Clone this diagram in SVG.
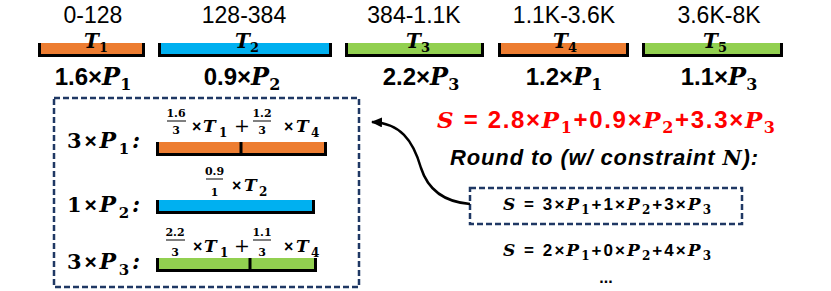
<svg xmlns="http://www.w3.org/2000/svg" width="831" height="291" viewBox="0 0 831 291">
<style>
.rng{font-family:"Liberation Sans",Arial,sans-serif;font-size:23px;fill:#000}
.n{font-family:"Liberation Sans",Arial,sans-serif;font-weight:bold}
.v{font-family:"DejaVu Serif","Liberation Serif",serif;font-weight:bold;font-style:italic}
.s{font-family:"DejaVu Serif","Liberation Serif",serif;font-weight:bold}
.br{fill:none;stroke:#000;stroke-width:3}
.dash{fill:none;stroke:#1F3864;stroke-width:2.5;stroke-dasharray:6 3}
.or{fill:#ED7D31}.bl{fill:#00B0F0}.gr{fill:#92D050}
.fl{stroke:#000;stroke-width:1}
</style>
<defs>
<marker id="ah" markerWidth="11" markerHeight="10" refX="10" refY="5" orient="auto" markerUnits="userSpaceOnUse">
<path d="M0,0 L11,5 L0,10 z" fill="#000"/>
</marker>
</defs>

<g id="t1">
<text class="rng" x="93" y="23" text-anchor="middle">0-128</text>
<rect class="or" x="39" y="43" width="105" height="12"/>
<path class="br" d="M39.5,43 V55.5 H143.5 V43"/>
<text x="96" y="48" text-anchor="middle"><tspan class="v" font-size="20">T</tspan><tspan class="s" font-size="13" dy="4">1</tspan></text>
<text x="93" y="85" text-anchor="middle"><tspan class="n" font-size="24">1.6×</tspan><tspan class="v" font-size="24">P</tspan><tspan class="s" font-size="16" dy="5">1</tspan></text>
</g>

<g id="t2">
<text class="rng" x="244" y="23" text-anchor="middle">128-384</text>
<rect class="bl" x="159" y="43" width="172" height="12"/>
<path class="br" d="M159.5,43 V55.5 H330.5 V43"/>
<text x="247" y="48" text-anchor="middle"><tspan class="v" font-size="20">T</tspan><tspan class="s" font-size="13" dy="4">2</tspan></text>
<text x="242" y="85" text-anchor="middle"><tspan class="n" font-size="24">0.9×</tspan><tspan class="v" font-size="24">P</tspan><tspan class="s" font-size="16" dy="5">2</tspan></text>
</g>

<g id="t3">
<text class="rng" x="414" y="23" text-anchor="middle">384-1.1K</text>
<rect class="gr" x="346" y="43" width="137" height="12"/>
<path class="br" d="M346.5,43 V55.5 H482.5 V43"/>
<text x="418" y="48" text-anchor="middle"><tspan class="v" font-size="20">T</tspan><tspan class="s" font-size="13" dy="4">3</tspan></text>
<text x="421" y="85" text-anchor="middle"><tspan class="n" font-size="24">2.2×</tspan><tspan class="v" font-size="24">P</tspan><tspan class="s" font-size="16" dy="5">3</tspan></text>
</g>

<g id="t4">
<text class="rng" x="564" y="23" text-anchor="middle">1.1K-3.6K</text>
<rect class="or" x="499" y="43" width="129" height="12"/>
<path class="br" d="M499.5,43 V55.5 H627.5 V43"/>
<text x="565" y="48" text-anchor="middle"><tspan class="v" font-size="20">T</tspan><tspan class="s" font-size="13" dy="4">4</tspan></text>
<text x="564" y="85" text-anchor="middle"><tspan class="n" font-size="24">1.2×</tspan><tspan class="v" font-size="24">P</tspan><tspan class="s" font-size="16" dy="5">1</tspan></text>
</g>

<g id="t5">
<text class="rng" x="719" y="23" text-anchor="middle">3.6K-8K</text>
<rect class="gr" x="643" y="43" width="139" height="12"/>
<path class="br" d="M643.5,43 V55.5 H781.5 V43"/>
<text x="715" y="48" text-anchor="middle"><tspan class="v" font-size="20">T</tspan><tspan class="s" font-size="13" dy="4">5</tspan></text>
<text x="719" y="85" text-anchor="middle"><tspan class="n" font-size="24">1.1×</tspan><tspan class="v" font-size="24">P</tspan><tspan class="s" font-size="16" dy="5">3</tspan></text>
</g>

<g id="breakdown">
<rect x="54" y="98" width="305" height="189" fill="#FFF2CC" class="dash"/>
<!-- row 1 -->
<text x="67" y="148" textLength="73" lengthAdjust="spacing"><tspan class="s" font-size="21">3</tspan><tspan class="n" font-size="21">×</tspan><tspan class="v" font-size="22">P</tspan><tspan class="s" font-size="15" dy="6">1</tspan><tspan class="v" font-size="22" dy="-6">:</tspan></text>
<rect class="or" x="157" y="142" width="168" height="12"/>
<path class="br" d="M157.5,142 V154.5 H325.5 V142 M241,142 V154"/>
<text class="s" font-size="11" x="176" y="117" text-anchor="middle">1.6</text>
<line class="fl" x1="167" y1="121" x2="186" y2="121"/>
<text class="s" font-size="11" x="176" y="134" text-anchor="middle">3</text>
<text y="132"><tspan class="n" font-size="16" x="192">×</tspan><tspan class="v" font-size="17" x="203">T</tspan><tspan class="s" font-size="12" x="219" y="137">1</tspan><tspan font-family="DejaVu Serif,serif" font-size="19" x="234" y="132">+</tspan></text>
<text class="s" font-size="11" x="262" y="117" text-anchor="middle">1.2</text>
<line class="fl" x1="253" y1="121" x2="271" y2="121"/>
<text class="s" font-size="11" x="262" y="134" text-anchor="middle">3</text>
<text y="132"><tspan class="n" font-size="16" x="284">×</tspan><tspan class="v" font-size="17" x="296">T</tspan><tspan class="s" font-size="12" x="311" y="137">4</tspan></text>
<!-- row 2 -->
<text x="67" y="212" textLength="73" lengthAdjust="spacing"><tspan class="s" font-size="21">1</tspan><tspan class="n" font-size="21">×</tspan><tspan class="v" font-size="22">P</tspan><tspan class="s" font-size="15" dy="6">2</tspan><tspan class="v" font-size="22" dy="-6">:</tspan></text>
<rect class="bl" x="157" y="200" width="156" height="12"/>
<path class="br" d="M157.5,200 V212.5 H313.5 V200"/>
<text class="s" font-size="11" x="214.5" y="175" text-anchor="middle">0.9</text>
<line class="fl" x1="206" y1="179" x2="223" y2="179"/>
<text class="s" font-size="11" x="214.5" y="196" text-anchor="middle">1</text>
<text y="191"><tspan class="n" font-size="16" x="232">×</tspan><tspan class="v" font-size="17" x="244">T</tspan><tspan class="s" font-size="12" x="259" y="196">2</tspan></text>
<!-- row 3 -->
<text x="67" y="269" textLength="73" lengthAdjust="spacing"><tspan class="s" font-size="21">3</tspan><tspan class="n" font-size="21">×</tspan><tspan class="v" font-size="22">P</tspan><tspan class="s" font-size="15" dy="6">3</tspan><tspan class="v" font-size="22" dy="-6">:</tspan></text>
<rect class="gr" x="157" y="258" width="158" height="12"/>
<path class="br" d="M157.5,258 V270.5 H315.5 V258 M250,258 V270"/>
<text class="s" font-size="11" x="175" y="236" text-anchor="middle">2.2</text>
<line class="fl" x1="166" y1="240" x2="185" y2="240"/>
<text class="s" font-size="11" x="175" y="256" text-anchor="middle">3</text>
<text y="252"><tspan class="n" font-size="16" x="193">×</tspan><tspan class="v" font-size="17" x="204">T</tspan><tspan class="s" font-size="12" x="220" y="257">1</tspan><tspan font-family="DejaVu Serif,serif" font-size="19" x="234" y="252">+</tspan></text>
<text class="s" font-size="11" x="262" y="236" text-anchor="middle">1.1</text>
<line class="fl" x1="253" y1="240" x2="271" y2="240"/>
<text class="s" font-size="11" x="262" y="256" text-anchor="middle">3</text>
<text y="252"><tspan class="n" font-size="16" x="284">×</tspan><tspan class="v" font-size="17" x="296">T</tspan><tspan class="s" font-size="12" x="311" y="257">4</tspan></text>
</g>

<g id="sum" fill="#FF0000">
<text x="437" y="128" textLength="338" lengthAdjust="spacing"><tspan class="v" font-size="23">S</tspan><tspan class="n" font-size="24"> = 2.8×</tspan><tspan class="v" font-size="23">P</tspan><tspan class="s" font-size="16" dy="5">1</tspan><tspan class="n" font-size="24" dy="-5">+0.9×</tspan><tspan class="v" font-size="23">P</tspan><tspan class="s" font-size="16" dy="5">2</tspan><tspan class="n" font-size="24" dy="-5">+3.3×</tspan><tspan class="v" font-size="23">P</tspan><tspan class="s" font-size="16" dy="5">3</tspan></text>
</g>

<g id="round">
<text x="450" y="165" textLength="308" lengthAdjust="spacing"><tspan class="n" font-style="italic" font-size="22">Round to (w/ constraint </tspan><tspan class="v" font-size="21">N</tspan><tspan class="n" font-style="italic" font-size="22">):</tspan></text>
</g>

<g id="choice1">
<rect x="470" y="188" width="272" height="36" class="dash"/>
<text x="503" y="210" textLength="208" lengthAdjust="spacing"><tspan class="v" font-size="17">S</tspan><tspan class="n" font-size="17"> = 3×</tspan><tspan class="v" font-size="17">P</tspan><tspan class="s" font-size="12" dy="4">1</tspan><tspan class="n" font-size="17" dy="-4">+1×</tspan><tspan class="v" font-size="17">P</tspan><tspan class="s" font-size="12" dy="4">2</tspan><tspan class="n" font-size="17" dy="-4">+3×</tspan><tspan class="v" font-size="17">P</tspan><tspan class="s" font-size="12" dy="4">3</tspan></text>
</g>

<g id="choice2">
<text x="503" y="256" textLength="208" lengthAdjust="spacing"><tspan class="v" font-size="17">S</tspan><tspan class="n" font-size="17"> = 2×</tspan><tspan class="v" font-size="17">P</tspan><tspan class="s" font-size="12" dy="4">1</tspan><tspan class="n" font-size="17" dy="-4">+0×</tspan><tspan class="v" font-size="17">P</tspan><tspan class="s" font-size="12" dy="4">2</tspan><tspan class="n" font-size="17" dy="-4">+4×</tspan><tspan class="v" font-size="17">P</tspan><tspan class="s" font-size="12" dy="4">3</tspan></text>
<text class="n" font-size="16" x="606" y="283" text-anchor="middle">...</text>
</g>

<g id="connectors">
<path d="M470,204 C445,202 428,190 421,168 C413,140 400,123 372,122" fill="none" stroke="#000" stroke-width="2.5" marker-end="url(#ah)"/>
</g>
</svg>
